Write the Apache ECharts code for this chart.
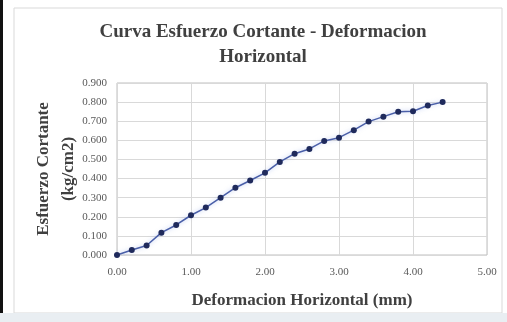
<!DOCTYPE html>
<html><head><meta charset="utf-8">
<script src="https://cdn.jsdelivr.net/npm/echarts@6/dist/echarts.min.js"></script>
<style>html,body{margin:0;padding:0;background:#fff}#c{width:507px;height:322px}</style>
</head><body><div id="c"></div>
<script>
var titleText = "Curva Esfuerzo Cortante - Deformacion\nHorizontal";
var xName = "Deformacion Horizontal (mm)";
var yName = "Esfuerzo Cortante\n(kg/cm2)";
var deformacion = [0.0,0.2,0.4,0.6,0.8,1.0,1.2,1.4,1.6,1.8,2.0,2.2,2.4,2.6,2.8,3.0,3.2,3.4,3.6,3.8,4.0,4.2,4.4];
var esfuerzo = [0.000,0.026,0.050,0.117,0.157,0.208,0.248,0.300,0.352,0.390,0.430,0.487,0.530,0.555,0.597,0.614,0.653,0.698,0.724,0.750,0.752,0.782,0.800];

var chart = echarts.init(document.getElementById('c'));
var font = "'Liberation Serif','Times New Roman',serif";
chart.setOption({
  animation:false,
  backgroundColor:'#fff',
  title:{text:titleText,left:263,top:20,textAlign:'center',padding:0,
    textStyle:{fontFamily:font,fontWeight:'bold',fontSize:19,color:'#404040',lineHeight:25}},
  grid:{left:117,right:20,top:83,bottom:67,show:true,borderColor:'#bfbfbf',borderWidth:1,outerBoundsMode:'none'},
  xAxis:{type:'value',min:0,max:5,interval:1,
    name:xName,nameLocation:'middle',nameGap:37,
    nameTextStyle:{fontFamily:font,fontWeight:'bold',fontSize:17,color:'#404040'},
    axisLine:{show:false},axisTick:{show:false},
    axisLabel:{fontFamily:font,fontSize:11,color:'#595959',margin:12,formatter:function(v){return v.toFixed(2);}},
    splitLine:{show:true,lineStyle:{color:'#d9d9d9',width:1}}},
  yAxis:{type:'value',min:0,max:0.9,interval:0.1,
    name:yName,nameLocation:'middle',nameGap:36,nameRotate:90,nameMoveOverlap:false,
    nameTextStyle:{fontFamily:font,fontWeight:'bold',fontSize:17,color:'#404040',lineHeight:25},
    axisLine:{show:false},axisTick:{show:false},
    axisLabel:{fontFamily:font,fontSize:11,color:'#595959',margin:10,formatter:function(v){return v.toFixed(3);}},
    splitLine:{show:true,lineStyle:{color:'#d9d9d9',width:1}}},
  series:[{type:'line',data:deformacion.map(function(x,i){return [x,esfuerzo[i]];}),
    symbol:'circle',symbolSize:6,
    lineStyle:{color:'#4a5fa8',width:1.5,shadowColor:'rgba(120,150,230,0.5)',shadowBlur:4},
    itemStyle:{color:'#1f2a5c',borderWidth:0}}],
  graphic:[
    {type:'rect',shape:{x:14,y:8,width:488,height:305},style:{fill:'none',stroke:'#d9d9d9',lineWidth:1},z:-1},
    {type:'rect',shape:{x:0,y:0,width:3,height:322},style:{fill:'#111'}},
    {type:'rect',shape:{x:0,y:313,width:507,height:9},style:{fill:'#e9eef2'}}
  ]
});
</script></body></html>
